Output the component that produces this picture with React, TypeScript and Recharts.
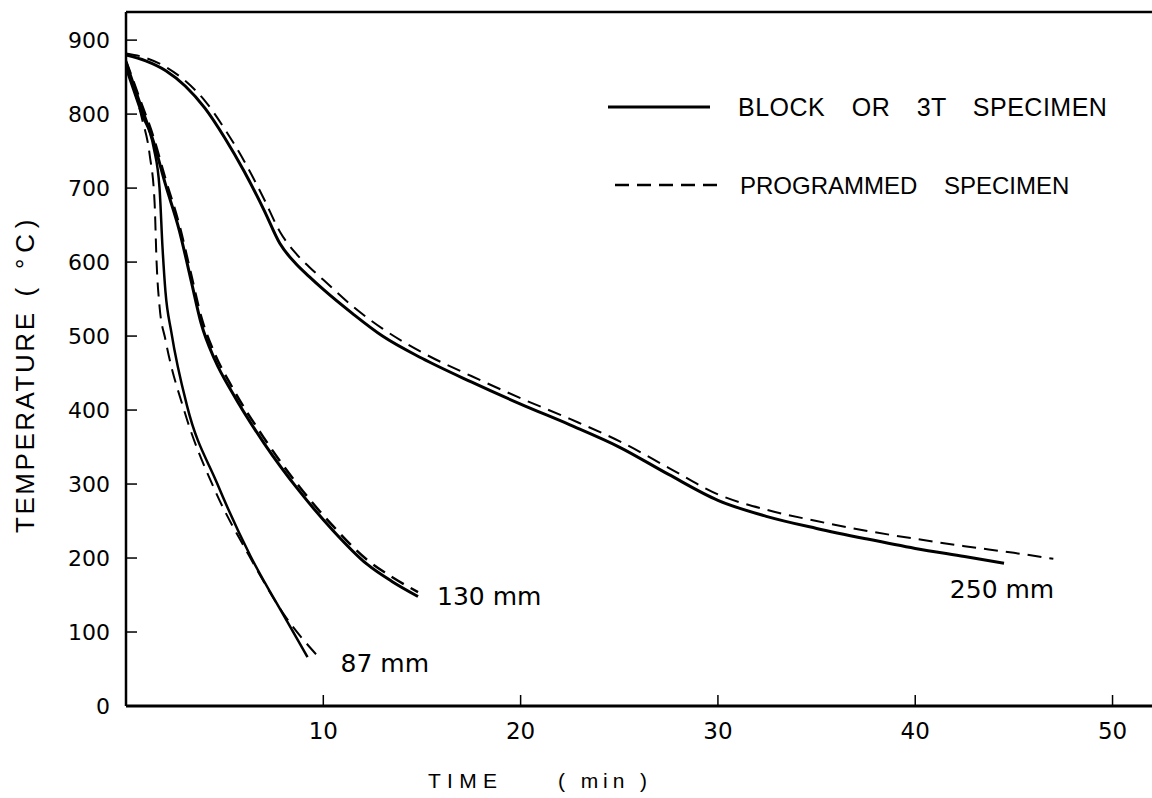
import { LineChart, Line, XAxis, YAxis, Legend, ReferenceLine } from "recharts";

// #region data (time in min, temperature in °C)
const time87Block = [0, 0.8, 1.4, 1.7, 1.85, 2.0, 2.3, 3.1, 4.6, 6.3, 8, 9.2];
const temp87Block = [862, 800, 755, 700, 620, 560, 505, 405, 302, 203, 122, 66];
const time87Prog = [0, 0.8, 1.2, 1.45, 1.55, 1.7, 2.0, 3.0, 4.5, 6.2, 8, 9.9];
const temp87Prog = [865, 795, 745, 680, 600, 540, 495, 395, 292, 205, 124, 62];

const time130Block = [0, 0.7, 1.4, 2, 2.7, 3.3, 3.8, 4.5, 5.4, 7, 8.8, 10.5, 12.2, 13.5, 14.8];
const temp130Block = [870, 815, 762, 705, 643, 575, 518, 468, 423, 355, 290, 237, 192, 168, 148];
const time130Prog = [0, 0.7, 1.4, 2, 2.7, 3.3, 3.8, 4.5, 5.4, 7, 8.8, 10.5, 12.2, 13.5, 14.8];
const temp130Prog = [872, 820, 768, 712, 650, 583, 527, 476, 430, 362, 296, 243, 198, 174, 154];

const time250Block = [0, 1, 2, 3, 4, 5, 6, 7, 7.8, 8.6, 9.3, 10, 11.5, 13, 15, 17.5, 20, 22.5, 25, 27.5, 30, 32.5, 35, 37.5, 40, 42.5, 44.5];
const temp250Block = [880, 872, 859, 838, 808, 768, 722, 670, 625, 598, 580, 563, 530, 500, 470, 438, 408, 380, 350, 313, 278, 256, 240, 226, 213, 202, 193];
const time250Prog = [0, 1, 2, 3, 4, 5, 6, 7, 7.8, 8.6, 9.3, 10, 11.5, 13, 15, 17.5, 20, 22.5, 25, 27.5, 30, 32.5, 35, 37.5, 40, 42.5, 45, 47];
const temp250Prog = [882, 876, 864, 845, 818, 780, 736, 685, 641, 612, 593, 576, 540, 510, 478, 446, 416, 388, 358, 322, 286, 265, 250, 237, 226, 216, 207, 199];

const xTicks = [10, 20, 30, 40, 50];
const yTicks = [0, 100, 200, 300, 400, 500, 600, 700, 800, 900];
// #endregion

const FONT = "'DejaVu Sans', 'Liberation Sans', sans-serif";
const NARROW = "'Liberation Sans Narrow', 'Liberation Sans', sans-serif";
const X_MAX = 52;
const Y_MAX = 938;

const toPoints = (time: number[], temp: number[]) =>
  time.map((t, i) => ({ time: t, temp: temp[i] }));

const d87b = toPoints(time87Block, temp87Block);
const d87p = toPoints(time87Prog, temp87Prog);
const d130b = toPoints(time130Block, temp130Block);
const d130p = toPoints(time130Prog, temp130Prog);
const d250b = toPoints(time250Block, temp250Block);
const d250p = toPoints(time250Prog, temp250Prog);

const YTick = ({ x, y, payload }: any) => (
  <g>
    <line x1={x} y1={y} x2={x + 11} y2={y} stroke="#000" strokeWidth={1.5} />
    <text x={x - 16} y={y} textAnchor="end" dominantBaseline="central" fontSize={22} fontFamily={FONT} fill="#000">
      {payload.value}
    </text>
  </g>
);

const XTick = ({ x, y, payload }: any) => (
  <g>
    <line x1={x} y1={y} x2={x} y2={y - 11} stroke="#000" strokeWidth={1.5} />
    <text x={x} y={y + 25} textAnchor="middle" dominantBaseline="central" fontSize={23} fontFamily={FONT} fill="#000">
      {payload.value}
    </text>
  </g>
);

const endLabel = (text: string, n: number, dx: number, dy: number, anchor: string) => (props: any) => {
  if (props.index !== n - 1) return null;
  return (
    <text x={props.x + dx} y={props.y + dy} textAnchor={anchor} dominantBaseline="central" fontSize={25} fontFamily={FONT} fill="#000">
      {text}
    </text>
  );
};

const YTitle = (props: any) => {
  const vb = props.viewBox || { x: 0, y: 12, height: 694 };
  const cx = vb.x + 25;
  return (
    <g fontFamily={NARROW} fontSize={26} fill="#000">
      <text x={cx} y={vb.y + 411} transform={`rotate(-90 ${cx} ${vb.y + 411})`} textAnchor="middle" dominantBaseline="central" textLength={220} lengthAdjust="spacing">
        TEMPERATURE
      </text>
      <text x={cx} y={vb.y + 246} transform={`rotate(-90 ${cx} ${vb.y + 246})`} textAnchor="middle" dominantBaseline="central" textLength={77} lengthAdjust="spacing">
        ( °C)
      </text>
    </g>
  );
};

const XTitle = (props: any) => {
  const vb = props.viewBox || { x: 126, y: 706 };
  const ty = vb.y + 74;
  return (
    <g fontFamily={NARROW} fontSize={21} fill="#000">
      <text x={vb.x + 302} y={ty} dominantBaseline="central" textLength={69} lengthAdjust="spacing">
        TIME
      </text>
      <text x={vb.x + 432} y={ty} dominantBaseline="central" textLength={89} lengthAdjust="spacing">
        ( min )
      </text>
    </g>
  );
};

const LegendBox = () => (
  <svg width={540} height={130}>
    <line x1={8} y1={27} x2={110} y2={27} stroke="#000" strokeWidth={3} />
    <text x={138} y={27} dominantBaseline="central" fontSize={25} fontFamily={NARROW} style={{ wordSpacing: "19px", letterSpacing: "0.5px" }}>
      BLOCK OR 3T SPECIMEN
    </text>
    <line x1={15} y1={105} x2={118} y2={105} stroke="#000" strokeWidth={2.5} strokeDasharray="14 8" />
    <text x={140} y={105} dominantBaseline="central" fontSize={24} fontFamily={NARROW} style={{ wordSpacing: "20px" }}>
      PROGRAMMED SPECIMEN
    </text>
  </svg>
);

export default function App() {
  return (
    <div style={{ position: "absolute", left: 0, top: 0, background: "#fff" }}>
      <LineChart width={1152} height={798} margin={{ top: 12, right: 0, bottom: 0, left: 0 }}>
        <XAxis
          type="number"
          dataKey="time"
          domain={[0, X_MAX]}
          ticks={xTicks}
          allowDataOverflow
          height={92}
          tickSize={0}
          tickMargin={0}
          tick={<XTick />}
          axisLine={{ stroke: "#000", strokeWidth: 3 }}
          label={XTitle}
        />
        <YAxis
          type="number"
          dataKey="temp"
          domain={[0, Y_MAX]}
          ticks={yTicks}
          allowDataOverflow
          width={126}
          tickSize={0}
          tickMargin={0}
          tick={<YTick />}
          axisLine={{ stroke: "#000", strokeWidth: 2.5 }}
          label={YTitle}
        />
        <ReferenceLine y={Y_MAX} stroke="#000" strokeWidth={2.5} />
        <Legend
          layout="horizontal"
          verticalAlign="middle"
          wrapperStyle={{ position: "absolute", top: 80, left: 600, width: 540, height: 130 }}
          content={LegendBox}
        />
        <Line data={d87b} dataKey="temp" type="monotone" stroke="#000" strokeWidth={2.5} dot={false} isAnimationActive={false} label={endLabel("87 mm", d87b.length, 33, 6, "start")} />
        <Line data={d87p} dataKey="temp" type="monotone" stroke="#000" strokeWidth={2} strokeDasharray="14 8" dot={false} isAnimationActive={false} />
        <Line data={d130b} dataKey="temp" type="monotone" stroke="#000" strokeWidth={3} dot={false} isAnimationActive={false} label={endLabel("130 mm", d130b.length, 19, 0, "start")} />
        <Line data={d130p} dataKey="temp" type="monotone" stroke="#000" strokeWidth={2.5} strokeDasharray="14 8" dot={false} isAnimationActive={false} />
        <Line data={d250b} dataKey="temp" type="monotone" stroke="#000" strokeWidth={3} dot={false} isAnimationActive={false} label={endLabel("250 mm", d250b.length, -2, 26, "middle")} />
        <Line data={d250p} dataKey="temp" type="monotone" stroke="#000" strokeWidth={2} strokeDasharray="14 8" dot={false} isAnimationActive={false} />
      </LineChart>
    </div>
  );
}
